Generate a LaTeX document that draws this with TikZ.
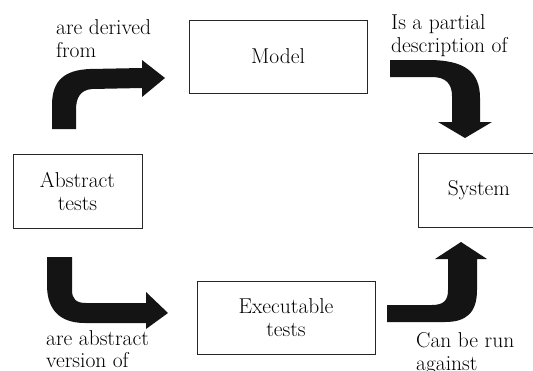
\documentclass[tikz,border=0pt]{standalone}
\usepackage{fontspec}
\begin{document}
\begin{tikzpicture}[x=1pt,y=-1pt,
  box/.style={draw=black!85,line width=0.8pt,rectangle,inner sep=0pt,align=center,
    font=\fontsize{21.5}{23}\selectfont},
  lbl/.style={anchor=north west,inner sep=0pt,align=left,font=\fontsize{21.5}{23}\selectfont},
  blockarrow/.style={fill=black!92}]
\useasboundingbox (0,0) rectangle (533,370);
\clip (0,0) rectangle (533,370);
\fill[white] (0,0) rectangle (533,370);

% boxes
\node[box,minimum width=178pt,minimum height=73pt] (model) at (278,56.5) {Model};
\node[box,minimum width=129pt,minimum height=74pt] (abstract) at (77.5,191) {Abstract\\tests};
\node[box,minimum width=122pt,minimum height=74pt] (system) at (479,190) {System};
\node[box,minimum width=178pt,minimum height=73pt] (exec) at (286,317.5) {Executable\\tests};

% labels
\node[lbl] (l1) at (56,19) {are derived\\from};
\node[lbl] (l2) at (391,14) {Is a partial\\description of};
\node[lbl,font=\fontsize{21.5}{21.5}\selectfont] (l3) at (46,330.6) {are abstract\\version of};
\node[lbl] (l4) at (416,332) {Can be run\\against};

% block arrows
% abstract tests -> model
\fill[blockarrow] (52,129) -- (52,105) .. controls (52,80) and (65,70) .. (90,69)
  -- (142,68) -- (142,60) -- (165,78) -- (142,97) -- (142,88) -- (92,89)
  .. controls (80,90) and (76,98) .. (76,110) -- (76,129) -- cycle;
% model -> system
\fill[blockarrow] (390,60) -- (428,60) .. controls (465,60) and (480,72) .. (480,98)
  -- (480,122) -- (492,122) -- (465,138) -- (438,122) -- (452,122) -- (452,96)
  .. controls (452,84) and (446,77) .. (432,77) -- (390,77) -- cycle;
% abstract tests -> executable tests
\fill[blockarrow] (47,257) -- (72,257) -- (72,290) .. controls (72,299) and (76,303) .. (86,303)
  -- (146,303) -- (146,292) -- (168,313) -- (146,329) -- (146,323) -- (85,323)
  .. controls (60,323) and (47,310) .. (47,285) -- cycle;
% executable tests -> system
\fill[blockarrow] (387,305) -- (432,305) .. controls (444,305) and (448,300) .. (448,290)
  -- (448,259) -- (435,259) -- (461,242) -- (487,259) -- (477,259) -- (477,290)
  .. controls (477,313) and (466,322) .. (445,322) -- (387,322) -- cycle;
\end{tikzpicture}
\end{document}
